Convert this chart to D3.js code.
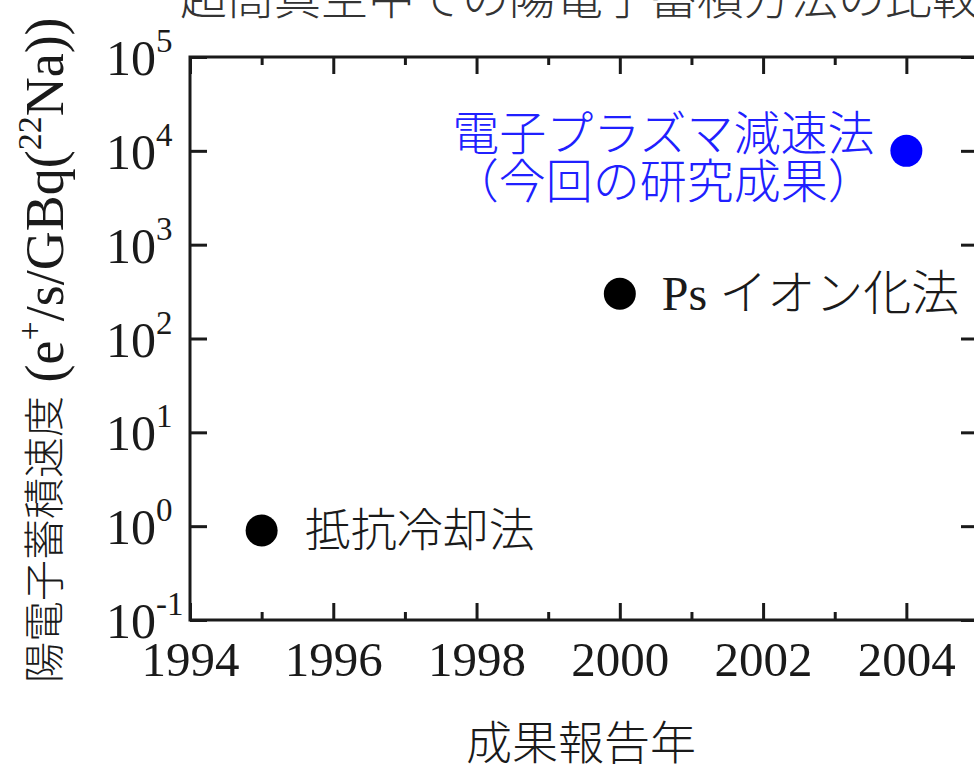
<!DOCTYPE html>
<html>
<head>
<meta charset="utf-8">
<script src="https://cdn.jsdelivr.net/npm/d3@7/dist/d3.min.js"></script>
<style>
  html, body { margin: 0; padding: 0; background: #fff; overflow: hidden; }
  svg { display: block; }
  .serif { font-family: "Liberation Serif", "Noto Sans CJK JP", serif; }
  .cjk { font-family: "Liberation Serif", "Noto Sans CJK JP", sans-serif; font-weight: 300; }
</style>
</head>
<body>
<svg id="chart" width="974" height="773"></svg>
<script>
// Positron accumulation rate by method and report year
const methods = ["抵抗冷却法", "Ps イオン化法", "電子プラズマ減速法"];
const years = [1995, 2000, 2004];
const rates = [0.9, 300, 1e4];
const pointColors = ["#000000", "#000000", "#0000ff"];

// Axis ticks
const majorYears = [1994, 1996, 1998, 2000, 2002, 2004];
const minorYears = [1995, 1997, 1999, 2001, 2003, 2005];
const yExponents = [-1, 0, 1, 2, 3, 4, 5];

const titleText = "超高真空中での陽電子蓄積方法の比較";
const xTitle = "成果報告年";

const svg = d3.select("#chart");
const plotLeft = 190, plotRight = 978, plotTop = 57, plotBottom = 620;

const x = d3.scaleLinear().domain([1994, 2005]).range([plotLeft, plotRight]);
const y = d3.scaleLog().domain([0.1, 1e5]).range([plotBottom, plotTop]);

const ink = "#1a1a1a";

// title (runs off the top edge)
svg.append("text")
  .attr("class", "cjk")
  .attr("x", 180).attr("y", 14)
  .attr("font-size", 47)
  .attr("fill", "#333")
  .text(titleText);

// axes: major and minor ticks point inward
function styleAxis(g) {
  g.select(".domain").remove();
  g.selectAll(".tick line").attr("stroke", ink).attr("stroke-width", 3);
}

svg.append("g").attr("transform", `translate(0,${plotBottom})`)
  .call(d3.axisBottom(x).tickValues(majorYears).tickSize(-17).tickPadding(21).tickFormat(d3.format("d")))
  .call(styleAxis)
  .call(g => g.selectAll("text").attr("class", "serif").attr("font-size", 49).attr("fill", ink));
svg.append("g").attr("transform", `translate(0,${plotBottom})`)
  .call(d3.axisBottom(x).tickValues(minorYears).tickSize(-8).tickFormat(""))
  .call(styleAxis);
svg.append("g").attr("transform", `translate(0,${plotTop})`)
  .call(d3.axisTop(x).tickValues(majorYears).tickSize(-17).tickFormat(""))
  .call(styleAxis);
svg.append("g").attr("transform", `translate(0,${plotTop})`)
  .call(d3.axisTop(x).tickValues(minorYears).tickSize(-8).tickFormat(""))
  .call(styleAxis);

const yTicks = yExponents.map(e => Math.pow(10, e));
svg.append("g").attr("transform", `translate(${plotLeft},0)`)
  .call(d3.axisLeft(y).tickValues(yTicks).tickSize(-17).tickFormat(""))
  .call(styleAxis);
svg.append("g").attr("transform", `translate(${plotRight},0)`)
  .call(d3.axisRight(y).tickValues(yTicks).tickSize(-17).tickFormat(""))
  .call(styleAxis);

// y tick labels as 10 with superscript exponent
const yl = svg.append("g").selectAll("text").data(yExponents).join("text")
  .attr("class", "serif")
  .attr("x", 106)
  .attr("y", e => y(Math.pow(10, e)) + 18)
  .attr("font-size", 50)
  .attr("fill", ink);
yl.append("tspan").text("10");
yl.append("tspan").attr("font-size", 33).attr("dy", -23).text(e => e < 0 ? "-" + Math.abs(e) : e);

// frame
svg.append("rect")
  .attr("x", plotLeft).attr("y", plotTop)
  .attr("width", plotRight - plotLeft).attr("height", plotBottom - plotTop)
  .attr("fill", "none").attr("stroke", ink).attr("stroke-width", 3);

// points
svg.append("g").selectAll("circle").data(years).join("circle")
  .attr("cx", d => x(d))
  .attr("cy", (d, i) => y(rates[i]))
  .attr("r", 16)
  .attr("fill", (d, i) => pointColors[i]);

// point labels
svg.append("text").attr("class", "cjk")
  .attr("x", x(years[0]) + 43).attr("y", y(rates[0]))
  .attr("dominant-baseline", "central")
  .attr("font-size", 46).attr("fill", ink)
  .text(methods[0]);
svg.append("text").attr("class", "cjk")
  .attr("x", x(years[1]) + 42).attr("y", y(rates[1]))
  .attr("dominant-baseline", "central")
  .attr("font-size", 48).attr("fill", ink)
  .text(methods[1]);
const blueLabel = svg.append("text").attr("class", "cjk")
  .attr("text-anchor", "middle")
  .attr("font-size", 47).attr("fill", "#2020ff");
blueLabel.append("tspan")
  .attr("x", x(years[2]) - 243).attr("y", y(rates[2]) - 17)
  .attr("dominant-baseline", "central")
  .text(methods[2]);
blueLabel.append("tspan")
  .attr("x", x(years[2]) - 243).attr("y", y(rates[2]) + 31)
  .attr("dominant-baseline", "central")
  .text("（今回の研究成果）");

// x axis title
svg.append("text").attr("class", "cjk")
  .attr("x", (plotLeft + plotRight) / 2 - 3).attr("y", 743)
  .attr("text-anchor", "middle").attr("dominant-baseline", "central")
  .attr("font-size", 46).attr("fill", ink)
  .text(xTitle);

// y axis title, rotated
const yt = svg.append("text").attr("class", "cjk")
  .attr("transform", "translate(45,683) rotate(-90)")
  .attr("dominant-baseline", "central")
  .attr("font-size", 41).attr("fill", ink);
yt.append("tspan").text("陽電子蓄積速度");
yt.append("tspan").attr("font-size", 54).text(" (e");
yt.append("tspan").attr("font-size", 34).attr("dy", -16).text("+");
yt.append("tspan").attr("font-size", 54).attr("dy", 16).text("/s/GBq(");
yt.append("tspan").attr("font-size", 34).attr("dy", -16).text("22");
yt.append("tspan").attr("font-size", 54).attr("dy", 16).text("Na))");
</script>
</body>
</html>
